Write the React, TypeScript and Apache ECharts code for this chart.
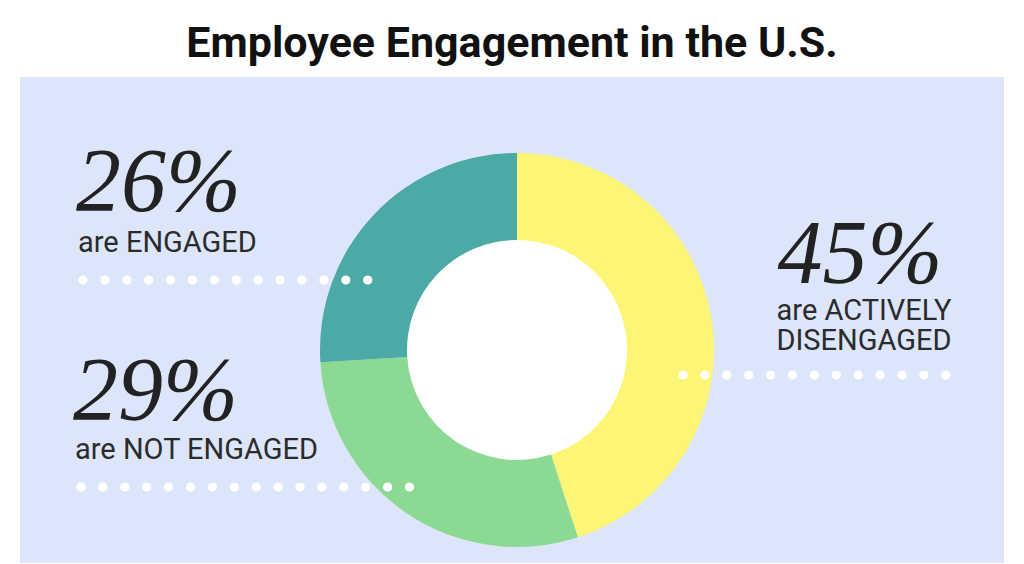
import React, { useEffect, useRef } from "react";
import * as echarts from "echarts";

const titleText = "Employee Engagement in the U.S.";
const categories = ["are ACTIVELY DISENGAGED", "are NOT ENGAGED", "are ENGAGED"];
const values = [45, 29, 26];
const colors = ["#fdf575", "#8bd992", "#4ba9a6"];

export default function App() {
  const ref = useRef<HTMLDivElement>(null);
  useEffect(() => {
    if (!ref.current) return;
    const chart = echarts.init(ref.current, null, { renderer: "svg" });
    const cx = 517;
    const cy = 350;
    const dots = (x0: number, y: number, n: number) =>
      Array.from({ length: n }, (_, i) => ({
        type: "circle",
        z: 100,
        shape: { cx: x0 + i * 21.9, cy: y, r: 4.6 },
        style: { fill: "#ffffff" },
      }));
    const pctFont = "italic 90px 'Liberation Serif', serif";
    const subFont = "29px Roboto, sans-serif";
    const txt = (
      text: string,
      x: number,
      y: number,
      font: string,
      fill: string,
      lineHeight: number,
      align = "left"
    ) => ({
      type: "text",
      z: 50,
      x,
      y,
      style: { text, font, fill, lineHeight, textAlign: align, textVerticalAlign: "top" },
    });
    chart.setOption({
      animation: false,
      backgroundColor: "#ffffff",
      title: {
        text: titleText,
        left: "center",
        top: 15,
        textStyle: {
          fontFamily: "Roboto",
          fontWeight: "bold",
          fontSize: 43,
          color: "#111111",
        },
      },
      graphic: [
        {
          type: "rect",
          z: -10,
          shape: { x: 20, y: 77, width: 984, height: 486 },
          style: { fill: "#dde5fb" },
        },
        {
          type: "circle",
          z: -5,
          shape: { cx, cy, r: 111 },
          style: { fill: "#ffffff" },
        },
        txt("26%", 76, 148, pctFont, "#222222", 64),
        txt("are ENGAGED", 78, 229, subFont, "#2b2b2b", 26),
        txt("29%", 73, 357, pctFont, "#222222", 64),
        txt("are NOT ENGAGED", 75, 436, subFont, "#2b2b2b", 26),
        txt("45%", 860, 220, pctFont, "#222222", 64, "center"),
        txt("are ACTIVELY", 864, 297, subFont, "#2b2b2b", 26, "center"),
        txt("DISENGAGED", 864, 327, subFont, "#2b2b2b", 26, "center"),
        ...dots(83, 280, 14),
        ...dots(81, 487, 16),
        ...dots(683, 375, 13),
      ],
      series: [
        {
          type: "pie",
          center: [cx, cy],
          radius: [110, 197],
          startAngle: 90,
          clockwise: true,
          silent: true,
          label: { show: false },
          labelLine: { show: false },
          itemStyle: { borderWidth: 0 },
          data: categories.map((c, i) => ({
            name: c,
            value: values[i],
            itemStyle: { color: colors[i] },
          })),
        },
      ],
    });
    return () => chart.dispose();
  }, []);
  return (
    <div
      ref={ref}
      style={{ position: "fixed", left: 0, top: 0, width: 1024, height: 564 }}
    />
  );
}
